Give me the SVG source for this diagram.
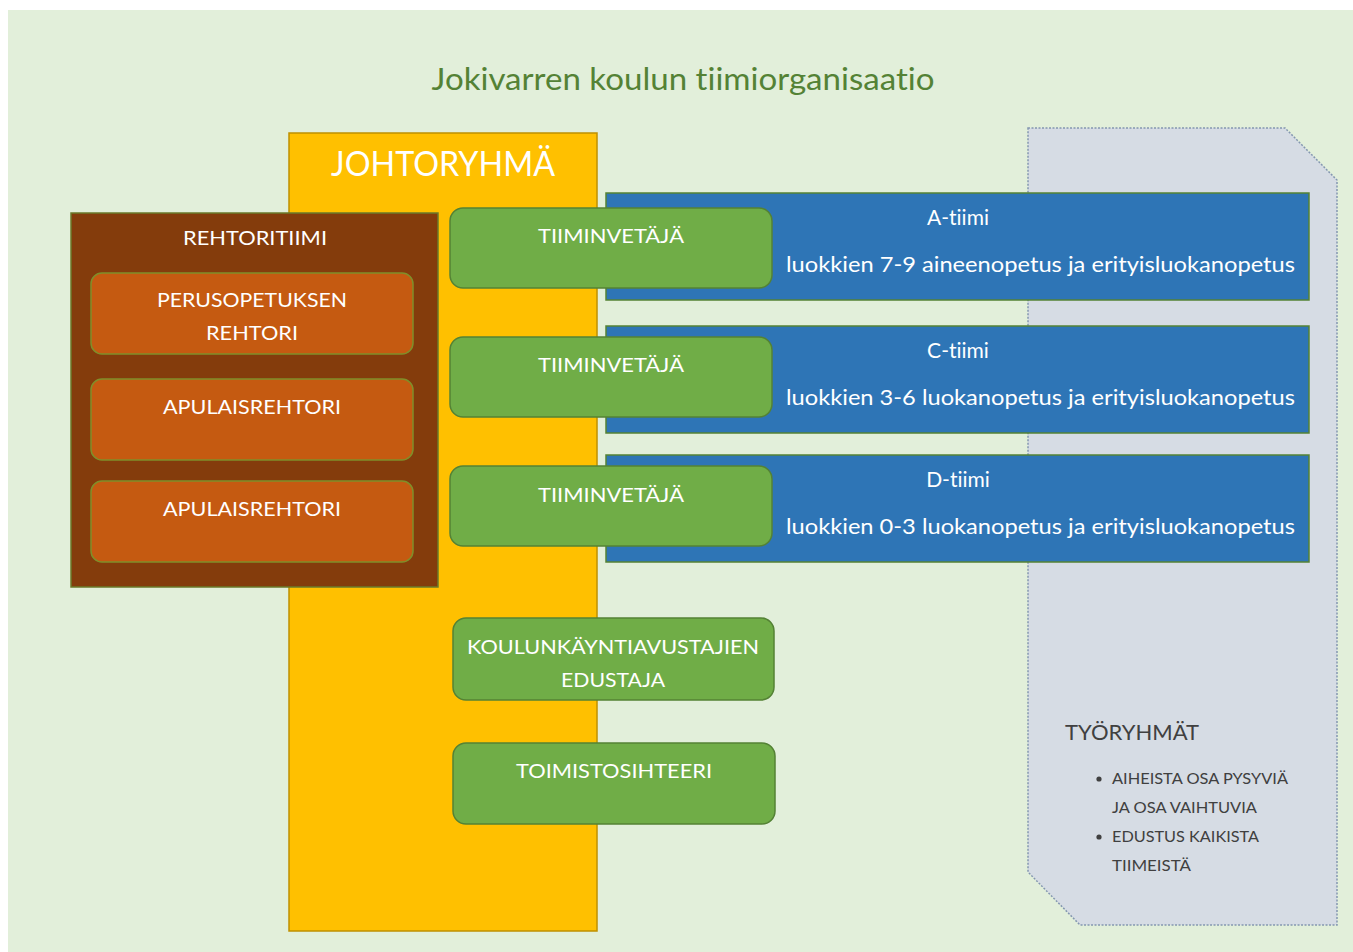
<svg xmlns="http://www.w3.org/2000/svg" width="1353" height="952" viewBox="0 0 1353 952">
<style>
text{font-family:Lato,"Open Sans","Liberation Sans",sans-serif;font-variant-ligatures:none;font-feature-settings:"liga" 0;}
.w{fill:#ffffff;}
.lbl{font-size:20px;text-anchor:middle;fill:#ffffff;}
.blue{fill:#2e75b6;stroke:#548235;stroke-width:1.5;}
.green{fill:#70ad47;stroke:#548235;stroke-width:1.5;}
.orange{fill:#c55a11;stroke:#7f8f2a;stroke-width:1.5;}
.team{font-size:21px;fill:#ffffff;}
.bul{font-size:16px;fill:#404040;}
</style>
<rect x="8" y="10" width="1345" height="942" fill="#e2efda"/>
<text x="683" y="90" font-size="30" fill="#548235" text-anchor="middle" textLength="503" lengthAdjust="spacingAndGlyphs">Jokivarren koulun tiimiorganisaatio</text>

<g id="tyoryhmat">
<path d="M1028,128 L1285,128 L1337,180 L1337,925 L1080,925 L1028,872 Z" fill="#d6dce4" stroke="#8497b0" stroke-width="1.5" stroke-dasharray="2,1.5"/>
<text x="1065" y="740" font-size="21" fill="#404040" textLength="134" lengthAdjust="spacingAndGlyphs">TYÖRYHMÄT</text>
<circle cx="1099" cy="779" r="2.6" fill="#404040"/>
<text class="bul" x="1112" y="784" textLength="176" lengthAdjust="spacingAndGlyphs">AIHEISTA OSA PYSYVIÄ</text>
<text class="bul" x="1112" y="813" textLength="145" lengthAdjust="spacingAndGlyphs">JA OSA VAIHTUVIA</text>
<circle cx="1099" cy="837" r="2.6" fill="#404040"/>
<text class="bul" x="1112" y="842" textLength="147" lengthAdjust="spacingAndGlyphs">EDUSTUS KAIKISTA</text>
<text class="bul" x="1112" y="871" textLength="79" lengthAdjust="spacingAndGlyphs">TIIMEISTÄ</text>
</g>

<g id="johtoryhma">
<rect x="289" y="133" width="308" height="798" fill="#ffc000" stroke="#bf9000" stroke-width="1.5"/>
<text x="443" y="176" font-size="34" class="w" text-anchor="middle" textLength="224" lengthAdjust="spacingAndGlyphs">JOHTORYHMÄ</text>
</g>

<g id="a-tiimi">
<rect class="blue" x="606" y="193" width="703" height="107"/>
<text class="team" x="958" y="225" text-anchor="middle">A-tiimi</text>
<text class="team" x="786" y="272" textLength="509" lengthAdjust="spacingAndGlyphs">luokkien 7-9 aineenopetus ja erityisluokanopetus</text>
</g>
<g id="c-tiimi">
<rect class="blue" x="606" y="326" width="703" height="107"/>
<text class="team" x="958" y="358" text-anchor="middle">C-tiimi</text>
<text class="team" x="786" y="405" textLength="509" lengthAdjust="spacingAndGlyphs">luokkien 3-6 luokanopetus ja erityisluokanopetus</text>
</g>
<g id="d-tiimi">
<rect class="blue" x="606" y="455" width="703" height="107"/>
<text class="team" x="958" y="487" text-anchor="middle">D-tiimi</text>
<text class="team" x="786" y="534" textLength="509" lengthAdjust="spacingAndGlyphs">luokkien 0-3 luokanopetus ja erityisluokanopetus</text>
</g>

<g id="rehtoritiimi">
<rect x="71" y="213" width="367" height="374" fill="#843c0c" stroke="#6b7a2a" stroke-width="1.5"/>
<text class="lbl" x="255" y="245" textLength="144" lengthAdjust="spacingAndGlyphs">REHTORITIIMI</text>
</g>
<g id="perusopetuksen-rehtori">
<rect class="orange" x="91" y="273" width="322" height="81" rx="11"/>
<text class="lbl" x="252" y="307" textLength="190" lengthAdjust="spacingAndGlyphs">PERUSOPETUKSEN</text>
<text class="lbl" x="252" y="340" textLength="92" lengthAdjust="spacingAndGlyphs">REHTORI</text>
</g>
<g id="apulaisrehtori-1">
<rect class="orange" x="91" y="379" width="322" height="81" rx="11"/>
<text class="lbl" x="252" y="414" textLength="178" lengthAdjust="spacingAndGlyphs">APULAISREHTORI</text>
</g>
<g id="apulaisrehtori-2">
<rect class="orange" x="91" y="481" width="322" height="81" rx="11"/>
<text class="lbl" x="252" y="516" textLength="178" lengthAdjust="spacingAndGlyphs">APULAISREHTORI</text>
</g>

<g id="tiiminvetaja-a">
<rect class="green" x="450" y="208" width="322" height="80" rx="13"/>
<text class="lbl" x="611" y="243" textLength="146" lengthAdjust="spacingAndGlyphs">TIIMINVETÄJÄ</text>
</g>
<g id="tiiminvetaja-c">
<rect class="green" x="450" y="337" width="322" height="80" rx="13"/>
<text class="lbl" x="611" y="372" textLength="146" lengthAdjust="spacingAndGlyphs">TIIMINVETÄJÄ</text>
</g>
<g id="tiiminvetaja-d">
<rect class="green" x="450" y="466" width="322" height="80" rx="13"/>
<text class="lbl" x="611" y="502" textLength="146" lengthAdjust="spacingAndGlyphs">TIIMINVETÄJÄ</text>
</g>
<g id="koulunkayntiavustajien-edustaja">
<rect class="green" x="453" y="618" width="321" height="82" rx="13"/>
<text class="lbl" x="613" y="654" textLength="292" lengthAdjust="spacingAndGlyphs">KOULUNKÄYNTIAVUSTAJIEN</text>
<text class="lbl" x="613" y="687" textLength="104" lengthAdjust="spacingAndGlyphs">EDUSTAJA</text>
</g>
<g id="toimistosihteeri">
<rect class="green" x="453" y="743" width="322" height="81" rx="13"/>
<text class="lbl" x="614" y="778" textLength="196" lengthAdjust="spacingAndGlyphs">TOIMISTOSIHTEERI</text>
</g>
<g id="connectors"></g>
</svg>
